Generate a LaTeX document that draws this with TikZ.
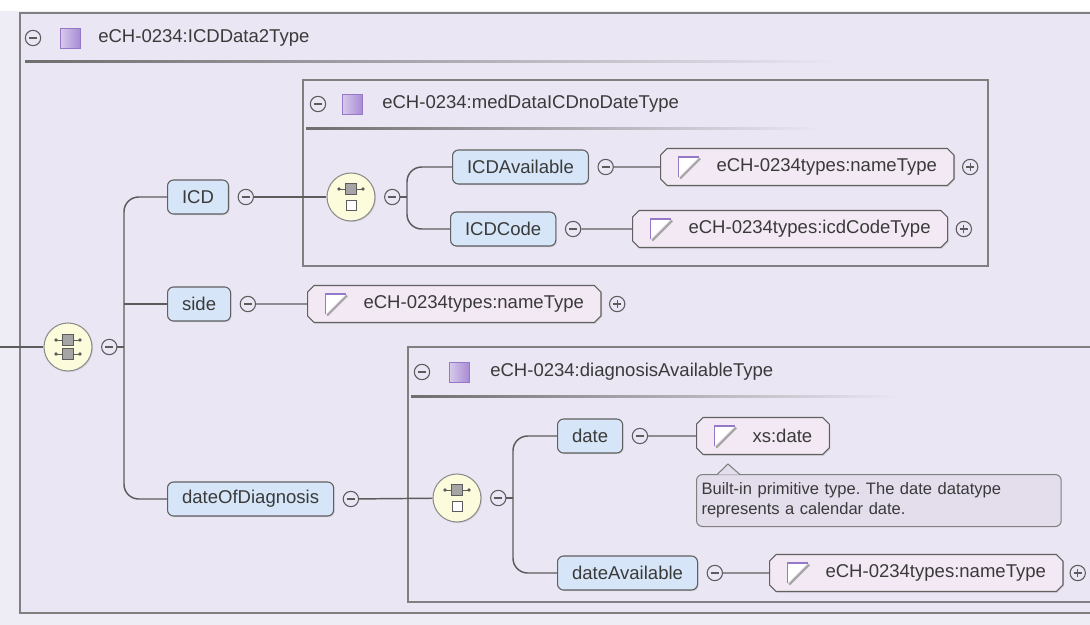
\documentclass[tikz,border=0pt]{standalone}
\usepackage{fontspec}
\setmainfont{Liberation Sans}
\usetikzlibrary{positioning,shapes.misc,shadows}

\definecolor{pageC}{RGB}{238,236,245}
\definecolor{bgC}{RGB}{234,230,243}
\definecolor{frameC}{RGB}{128,128,128}
\definecolor{edgeC}{RGB}{96,96,96}
\definecolor{lineC}{RGB}{92,92,92}
\definecolor{elemC}{RGB}{214,229,247}
\definecolor{typeC}{RGB}{243,233,244}
\definecolor{tipC}{RGB}{227,221,236}
\definecolor{seqC}{RGB}{252,252,220}
\definecolor{seqEdge}{RGB}{140,140,140}
\definecolor{txtC}{RGB}{58,58,58}
\definecolor{sqC}{RGB}{168,140,212}
\definecolor{sqEdge}{RGB}{150,120,200}
\definecolor{boxG}{RGB}{165,165,165}
\definecolor{sepC}{RGB}{110,110,110}

\tikzset{
  lbl/.style={font=\fontsize{13.9}{16}\selectfont, text=txtC},
  conn/.style={draw=lineC, line width=1.1pt},
  frame/.style={draw=frameC, fill=bgC, line width=1.2pt},
  minus/.style={circle, draw=lineC, fill=bgC, line width=0.8pt, minimum size=11.5pt, inner sep=0pt,
    path picture={\draw[lineC, line width=0.8pt] ([xshift=-3pt]path picture bounding box.center) -- ([xshift=3pt]path picture bounding box.center);}},
  plus/.style={minus,
    path picture={\draw[lineC, line width=0.8pt] ([xshift=-3pt]path picture bounding box.center) -- ([xshift=3pt]path picture bounding box.center)
      ([yshift=-3pt]path picture bounding box.center) -- ([yshift=3pt]path picture bounding box.center);}},
  hdrsq/.style={rectangle, draw=sqEdge, left color=white!55!sqC, right color=sqC, minimum size=15pt, inner sep=0pt},
  elem/.style={lbl, draw=edgeC, fill=elemC, line width=0.8pt, rounded corners=4.5pt, minimum height=25.5pt,
    inner xsep=10.9pt, inner ysep=0pt, anchor=west, drop shadow={shadow xshift=0.8pt, shadow yshift=-0.8pt, opacity=0.25}},
  typebox/.style={lbl, chamfered rectangle, chamfered rectangle xsep=2.5pt, chamfered rectangle ysep=2.5pt,
    draw=edgeC, fill=typeC, line width=0.8pt, minimum height=27.75pt, inner xsep=10.25pt, inner ysep=0pt, anchor=west,
    drop shadow={shadow xshift=0.8pt, shadow yshift=-0.8pt, opacity=0.25},
    execute at begin node={\hspace*{29.25pt}},
    path picture={
      \coordinate (tl) at ([xshift=13.5pt,yshift=7.5pt]path picture bounding box.west);
      \fill[white] (tl) -- ++(15pt,0) -- ++(-15pt,-15pt) -- cycle;
      \draw[gray!70, line width=1.6pt] ([xshift=1.2pt,yshift=-16.2pt]tl) -- ++(15pt,15pt);
      \draw[sqEdge, line width=0.8pt] ([yshift=-15pt]tl) -- (tl) -- ++(15pt,0);
    }},
  seqall/.style={circle, draw=seqEdge, fill=seqC, line width=0.8pt, minimum size=36pt, inner sep=0pt,
    drop shadow={shadow xshift=0.8pt, shadow yshift=-0.8pt, opacity=0.2},
    path picture={\begin{scope}[shift={(path picture bounding box.center)}]
      \seqrow{7}\seqrow{-7}
    \end{scope}}},
  seqopt/.style={seqall,
    path picture={\begin{scope}[shift={(path picture bounding box.center)}]
      \seqrow{8}
      \filldraw[fill=white, draw=lineC, line width=0.6pt] (-5,-13) rectangle (5,-3);
    \end{scope}}},
  tipbox/.style={font=\fontsize{12.4}{15}\selectfont, text=txtC, draw=frameC, fill=tipC, line width=0.8pt,
    rounded corners=4.5pt, align=left, text width=266pt, minimum height=39pt, inner xsep=3.75pt, inner ysep=0pt}
}
\newcommand{\seqrow}[1]{%
  \draw[lineC, line width=0.6pt] (-12,#1) -- (12,#1);
  \fill[lineC] (-12,#1) circle (1.4pt) (12,#1) circle (1.4pt);
  \filldraw[fill=boxG, draw=lineC, line width=0.6pt] (-5.5,#1-5.5) rectangle (5.5,#1+5.5);}
\frenchspacing

\begin{document}
\begin{tikzpicture}[x=0.75pt,y=0.75pt,yscale=-1,xscale=1]
  \useasboundingbox (0,0) rectangle (1090,625);
  \fill[pageC] (0,0) rectangle (1090,625);
  \fill[white] (0,0) rectangle (1090,11);

  %Shape: Rectangle [outer group]
  \draw[frame] (20,13) rectangle (1100,613);
  %Shape: Rectangle [medData group]
  \draw[frame] (303,80) rectangle (988,266);
  %Shape: Rectangle [diagnosis group]
  \draw[frame] (408,347) rectangle (1100,602);

  % Headers
  \node[minus] (m0) at (33,38) {};
  \node[hdrsq] (q0) at (70,38) {};
  \node[lbl, anchor=west, inner sep=0pt] (h0) at (98,38) {eCH-0234:ICDData2Type};
  \shade[left color=sepC, right color=bgC] (25,60) rectangle (840,62);

  \node[minus] (mA) at (318,104) {};
  \node[hdrsq] (qA) at (352,104) {};
  \node[lbl, anchor=west, inner sep=0pt] (hA) at (382,104) {eCH-0234:medDataICDnoDateType};
  \shade[left color=sepC, right color=bgC] (306,127) rectangle (820,129);

  \node[minus] (mB) at (422,372) {};
  \node[hdrsq] (qB) at (459,372) {};
  \node[lbl, anchor=west, inner sep=0pt] (hB) at (490,372) {eCH-0234:diagnosisAvailableType};
  \shade[left color=sepC, right color=bgC] (411,395) rectangle (900,397);

  % Main sequence
  \coordinate (entry) at (0,347);
  \node[seqall] (seq0) at (68,347) {};
  \node[minus, right=6.4pt of seq0] (seq0m) {};
  \coordinate (fork0) at (124,347);
  \draw[conn] (entry) -- (seq0);
  \draw[conn] (seq0m) -- (fork0);

  \node[elem] (icd) at (167,197) {ICD};
  \node[elem] (side) at (167,304) {side};
  \node[elem] (dod) at (167,499) {dateOfDiagnosis};
  \node[minus, right=6.4pt of icd] (icdm) {};
  \node[minus, right=6.4pt of side] (sidem) {};
  \node[minus, right=6.4pt of dod] (dodm) {};
  \draw[conn, rounded corners=11pt] (icd) -| (fork0) |- (dod);
  \draw[conn] (fork0 |- side.west) -- (side);

  % side
  \node[typebox] (sidet) at (307,304) {eCH-0234types:nameType};
  \node[plus, right=5.6pt of sidet] (sidep) {};
  \draw[conn] (sidem) -- (sidet);

  % ICD sequence
  \node[seqopt] (seq1) at (351,197) {};
  \node[minus, right=6.4pt of seq1] (seq1m) {};
  \coordinate (fork1) at (407,197);
  \draw[conn] (icdm) -- (seq1);
  \draw[conn] (seq1m) -- (fork1);

  \node[elem] (icdav) at (452,167) {ICDAvailable};
  \node[elem] (icdcode) at (450,229) {ICDCode};
  \node[minus, right=6.4pt of icdav] (icdavm) {};
  \node[minus, right=6.4pt of icdcode] (icdcodem) {};
  \draw[conn, rounded corners=11pt] (icdav) -| (fork1) |- (icdcode);

  \node[typebox] (icdavt) at (660,167) {eCH-0234types:nameType};
  \node[plus, right=5.6pt of icdavt] (icdavp) {};
  \node[typebox] (icdcodet) at (632,229) {eCH-0234types:icdCodeType};
  \node[plus, right=5.6pt of icdcodet] (icdcodep) {};
  \draw[conn] (icdavm) -- (icdavt);
  \draw[conn] (icdcodem) -- (icdcodet);

  % dateOfDiagnosis sequence
  \node[seqopt] (seq2) at (457,498) {};
  \node[minus, right=6.4pt of seq2] (seq2m) {};
  \coordinate (fork2) at (513,498);
  \draw[conn] (dodm) -- (seq2);
  \draw[conn] (seq2m) -- (fork2);

  \node[elem] (date) at (557,436) {date};
  \node[elem] (dateav) at (557,573) {dateAvailable};
  \node[minus, right=6.4pt of date] (datem) {};
  \node[minus, right=6.4pt of dateav] (dateavm) {};
  \draw[conn, rounded corners=11pt] (date) -| (fork2) |- (dateav);

  \node[typebox] (datet) at (696,436) {xs:date};
  \node[typebox] (dateavt) at (769,573) {eCH-0234types:nameType};
  \node[plus, right=4.5pt of dateavt] (dateavp) {};
  \draw[conn] (datem) -- (datet);
  \draw[conn] (dateavm) -- (dateavt);

  % Text Node [tooltip]
  \node[tipbox, anchor=north west] (tip) at (696,474) {Built-in primitive type. The date datatype\\represents a calendar date.};
  \coordinate (tippt) at (728,464);
  \coordinate (tipl) at (717,474.6);
  \coordinate (tipr) at (740,474.6);
  \fill[tipC] (tipl) -- (tippt) -- (tipr) -- cycle;
  \draw[frameC, line width=0.8pt] (tipl) -- (tippt) -- (tipr);
\end{tikzpicture}
\end{document}
